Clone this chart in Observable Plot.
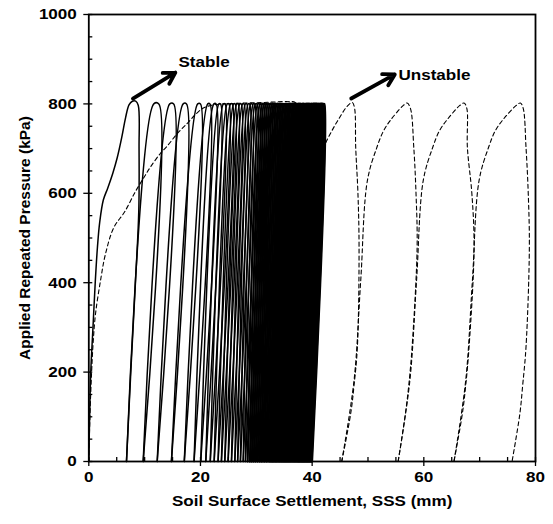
<!DOCTYPE html>
<html><head><meta charset="utf-8">
<script src="https://cdn.jsdelivr.net/npm/d3@7"></script>
<script src="https://cdn.jsdelivr.net/npm/@observablehq/plot@0.6"></script>
<style>body{margin:0;background:#fff;}</style>
</head><body><div id="chart"></div>
<script>
// Tick values
const xTicks = [0, 20, 40, 60, 80];
const yTicks = [0, 200, 400, 600, 800, 1000];
const xMinorTicks = [0, 5, 10, 15, 20, 25, 30, 35, 40, 45, 50, 55, 60, 65, 70, 75, 80];
const yMinorTicks = [0, 50, 100, 150, 200, 250, 300, 350, 400, 450, 500, 550, 600, 650, 700, 750, 800, 850, 900, 950, 1000];

// Stable: first loading + first unloading (settlement mm, pressure kPa)
const stableFirstX = [0, 0.15, 0.35, 0.75, 1.15, 1.55, 1.95, 2.6, 3.4, 4.3, 5.1, 5.9, 6.6, 7.2, 7.8, 8.4, 8.85, 9.0, 8.95, 8.35, 7.6, 6.75];
const stableFirstY = [0, 100, 200, 300, 400, 480, 535, 585, 612, 645, 680, 725, 770, 798, 806, 806, 797, 700, 560, 400, 220, 0];

// Stable: residual settlement after each unloading (mm)
const stableResidual = [6.75, 9.74, 12.25, 14.8, 17.1, 18.85, 20.05, 20.95, 21.75, 22.45, 23.15, 23.75, 24.35, 24.95, 25.55, 26.15, 26.65, 27.15, 27.65, 28.05,
  28.45, 28.85, 29.2, 29.55, 29.9, 30.25, 30.6, 30.9, 31.2, 31.5, 31.8, 32.1, 32.4, 32.65, 32.9, 33.15, 33.4, 33.65, 33.9, 34.15,
  34.4, 34.6, 34.8, 35.0, 35.2, 35.4, 35.6, 35.8, 36.0, 36.2, 36.4, 36.6, 36.8, 37.0, 37.2, 37.4, 37.55, 37.7, 37.85, 38.0,
  38.15, 38.3, 38.45, 38.6, 38.75, 38.9, 39.05, 39.2, 39.35, 39.5, 39.65, 39.8, 39.9, 40.0];
// Stable: settlement when 800 kPa is reached / released in each reload cycle (mm)
const stablePeakStart = [11.64, 14.5, 16.9, 19.5, 21.3, 22.4, 23.3, 24.1, 24.8, 25.4, 25.95, 26.5, 27.05, 27.55, 28.05, 28.55, 29.0, 29.45, 29.85, 30.25,
  30.65, 31.05, 31.4, 31.75, 32.1, 32.45, 32.8, 33.1, 33.4, 33.7, 34.0, 34.3, 34.6, 34.85, 35.1, 35.35, 35.6, 35.85, 36.1, 36.35,
  36.6, 36.8, 37.0, 37.2, 37.4, 37.6, 37.8, 38.0, 38.2, 38.4, 38.6, 38.8, 39.0, 39.2, 39.4, 39.6, 39.75, 39.9, 40.05, 40.2,
  40.35, 40.5, 40.65, 40.8, 40.95, 41.1, 41.25, 41.4, 41.55, 41.7, 41.85, 41.95, 42.05];
const stablePeakEnd = [12.54, 15.2, 17.5, 20.0, 21.7, 22.8, 23.6, 24.4, 25.1, 25.7, 26.2, 26.75, 27.3, 27.8, 28.3, 28.8, 29.25, 29.7, 30.1, 30.5,
  30.85, 31.25, 31.6, 31.95, 32.3, 32.65, 33.0, 33.3, 33.6, 33.9, 34.2, 34.5, 34.8, 35.05, 35.3, 35.55, 35.8, 36.05, 36.3, 36.55,
  36.8, 37.0, 37.2, 37.4, 37.6, 37.8, 38.0, 38.2, 38.4, 38.6, 38.8, 39.0, 39.2, 39.4, 39.6, 39.8, 39.95, 40.1, 40.25, 40.4,
  40.55, 40.7, 40.85, 41.0, 41.15, 41.3, 41.45, 41.6, 41.75, 41.9, 42.0, 42.1, 42.2];

// Unstable (dashed) loops: [settlement mm, pressure kPa]
const unstableFirst = [[0,0],[0.2,100],[0.5,200],[0.8,270],[1.2,330],[2.1,405],[3.0,465],[4.5,524],[6.4,558],[8.4,605],[9.9,636],[11.0,658],[12.8,689],[14.0,705],[15.8,733],[17.6,756],[19.0,775],[20.3,789],[22.0,797],[26.0,801],[31.0,803],[35.5,805],[37.0,803],[37.6,780],[37.8,700],[37.7,550],[37.3,350],[36.7,150],[35.9,0]];
const unstableLoop1 = [[35.9,0],[38.0,181],[39.2,405],[40.4,629],[42.1,703],[43.5,739],[44.7,765],[46.3,795],[47.2,803],[47.6,790],[47.8,703],[48.2,600],[48.4,480],[48.1,256],[47.5,170],[46.9,107],[45.3,0]];
const unstableLoop2 = [[45.3,0],[47.5,181],[48.7,405],[49.9,629],[51.6,703],[52.8,740],[54.0,763],[56.2,795],[57.0,802],[57.6,790],[58.2,703],[58.6,600],[58.8,480],[57.9,256],[57.3,170],[56.7,107],[55.4,0]];
const unstableLoop3 = [[55.4,0],[57.5,181],[58.7,405],[59.9,629],[61.6,703],[62.8,740],[64.2,765],[66.4,796],[67.2,802],[67.7,790],[67.8,703],[68.6,600],[69.0,480],[68.1,256],[67.5,170],[66.9,107],[65.4,0]];
const unstableLoop4 = [[65.4,0],[67.5,181],[68.7,405],[69.9,629],[71.6,703],[72.8,740],[74.2,765],[76.5,796],[77.3,802],[77.8,790],[78.3,703],[78.7,600],[78.9,480],[78.3,256],[77.7,170],[77.2,107],[75.8,0]];

// Annotations
const labelText = ["Stable", "Unstable"];
const labelX = [16.06, 55.46];
const labelY = [893, 864];
const arrowFrom = [[7.9, 812], [47.0, 812]];
const arrowTo = [[15.5, 870], [54.8, 866]];
const xTitle = "Soil Surface Settlement, SSS (mm)";
const yTitle = "Applied Repeated Pressure (kPa)";

// Build tables
const stableRows = [];
stableFirstX.forEach((x, i) => stableRows.push({x, y: stableFirstY[i], id: 0}));
for (let k = 0; k < stablePeakStart.length; k++) {
  stableRows.push({x: stableResidual[k], y: 0, id: k + 1});
  stableRows.push({x: stablePeakStart[k], y: 800, id: k + 1});
  stableRows.push({x: stablePeakEnd[k], y: 800, id: k + 1});
  stableRows.push({x: stableResidual[k + 1], y: 0, id: k + 1});
}
const stableOpen = stableRows.filter(d => d.id <= 20);
const stableDense = stableRows.filter(d => d.id > 20);
const unstableRows = [];
[unstableFirst, unstableLoop1, unstableLoop2, unstableLoop3, unstableLoop4].forEach((loop, id) =>
  loop.forEach(([x, y]) => unstableRows.push({x, y, id})));
const labels = labelText.map((t, i) => ({t, x: labelX[i], y: labelY[i]}));
const arrows = arrowFrom.map((a, i) => ({x1: a[0], y1: a[1], x2: arrowTo[i][0], y2: arrowTo[i][1]}));

const W = 553, H = 524, mL = 88.3, mR = 18, mT = 14, mB = 63;
const chart = Plot.plot({
  width: W, height: H,
  marginLeft: mL, marginRight: mR, marginTop: mT, marginBottom: mB,
  style: {fontFamily: '"Liberation Sans", Arial, sans-serif', fontSize: "15.5px", fontWeight: "bold", background: "white", color: "black"},
  x: {domain: [0, 80]},
  y: {domain: [0, 1000]},
  marks: [
    Plot.line(unstableRows, {x: "x", y: "y", z: "id", curve: "catmull-rom", stroke: "black", strokeWidth: 1.1, strokeDasharray: "4,3"}),
    Plot.line(stableOpen, {x: "x", y: "y", z: "id", curve: "catmull-rom", stroke: "black", strokeWidth: 1.5}),
    Plot.line(stableDense, {x: "x", y: "y", z: "id", curve: "catmull-rom", stroke: "black", strokeWidth: 2.0}),
    Plot.arrow(arrows, {x1: "x1", y1: "y1", x2: "x2", y2: "y2", stroke: "black", strokeWidth: 3.8, headLength: 5, headAngle: 60}),
    Plot.text(labels, {x: "x", y: "y", text: "t", textAnchor: "start", fill: "black"}),
    Plot.tickX(xMinorTicks, {x: d => d, insetTop: (H - mT - mB) - 4, stroke: "black", strokeWidth: 1.3}),
    Plot.tickY(yMinorTicks, {y: d => d, insetRight: (W - mL - mR) - 4, stroke: "black", strokeWidth: 1.3}),
    Plot.axisX({ticks: xTicks, tickSize: 5, tickPadding: 4, tickFormat: d => String(d), strokeWidth: 1.3, label: null}),
    Plot.axisY({ticks: yTicks, tickSize: 5, tickPadding: 7, tickFormat: d => String(d), strokeWidth: 1.3, label: null}),
    Plot.text([xTitle], {frameAnchor: "bottom", dy: 44, fill: "black"}),
    Plot.text([yTitle], {frameAnchor: "left", dx: -64, rotate: -90, textAnchor: "middle", fill: "black"}),
    Plot.frame({stroke: "black", strokeWidth: 1.8})
  ]
});
document.getElementById("chart").append(chart);
chart.querySelectorAll("text").forEach(t => {
  if (t.textContent === yTitle) return;
  const len = t.getComputedTextLength();
  if (len > 0) {
    t.setAttribute("textLength", (len * 1.1).toFixed(2));
    t.setAttribute("lengthAdjust", "spacingAndGlyphs");
  }
});
</script>
</body></html>
